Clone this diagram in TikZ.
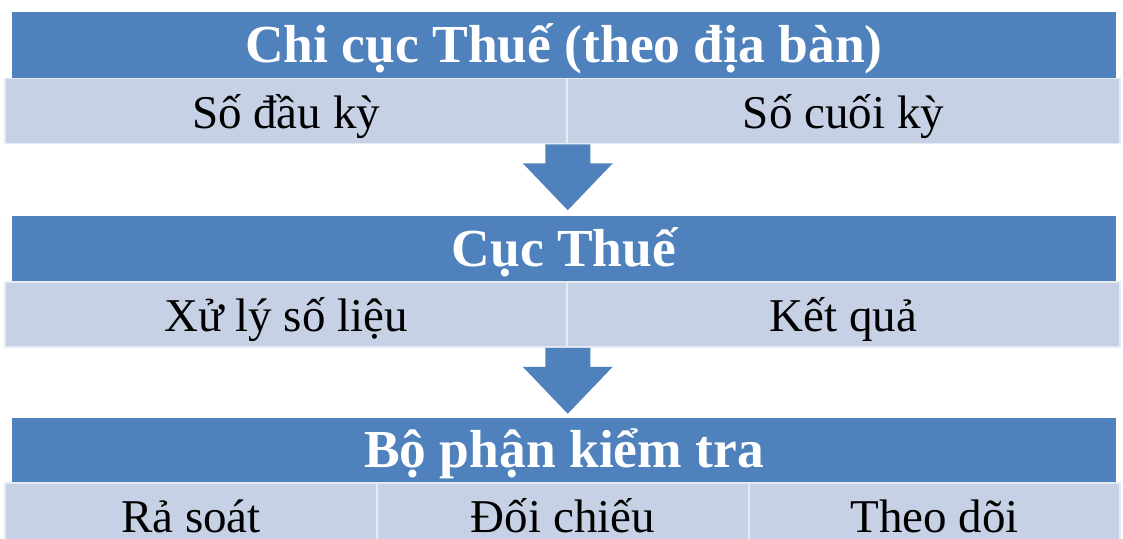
\documentclass[tikz,border=0pt]{standalone}
\usepackage{fontspec}
\setmainfont{Liberation Serif}
\usepackage[svgnames]{xcolor}
\definecolor{hdrblue}{RGB}{79,129,189}
\definecolor{rowblue}{RGB}{198,209,229}

\begin{document}
\begin{tikzpicture}[x=1pt,y=-1pt,
        hdr/.style={rectangle,fill=hdrblue,text=white,inner sep=0pt,
          minimum width=1104pt,minimum height=66pt,
          font=\fontsize{53.5}{60}\selectfont\bfseries,
          text height=38pt,text depth=4pt},
        cell/.style={rectangle,fill=rowblue,draw=white!55!rowblue,
          line width=1.5pt,inner sep=0pt,minimum height=65pt,
          font=\fontsize{47}{54}\selectfont,
          text height=38pt,text depth=4pt},
        blockarrow/.style={fill=hdrblue}]
        \useasboundingbox (0,0) rectangle (1123,538);
        \clip (0,0) rectangle (1123,538);

        \node[hdr] (h1) at (564,45) {Chi cục Thuế (theo địa bàn)};
        \node[cell,minimum width=562pt] (s1a) at (286,111) {Số đầu kỳ};
        \node[cell,minimum width=553pt] (s1b) at (843.5,111) {Số cuối kỳ};

        \node[hdr] (h2) at (564,249) {Cục Thuế};
        \node[cell,minimum width=562pt] (s2a) at (286,314.5) {Xử lý số liệu};
        \node[cell,minimum width=553pt] (s2b) at (843.5,314.5) {Kết quả};

        \node[hdr] (h3) at (564,450.5) {Bộ phận kiểm tra};
        \node[cell,minimum width=372pt] (s3a) at (191,515.5) {Rả soát};
        \node[cell,minimum width=372pt] (s3b) at (563,515.5) {Đối chiếu};
        \node[cell,minimum width=371pt] (s3c) at (934.5,515.5) {Theo dõi};

        \fill[blockarrow] (s1a.south east) ++(-22.5,0) -- ++(0,19)
          -- ++(-22.5,0) -- ++(45,47) -- ++(45,-47) -- ++(-22.5,0)
          -- ++(0,-19) -- cycle;

        \fill[blockarrow] (s2a.south east) ++(-22.5,0) -- ++(0,19)
          -- ++(-22.5,0) -- ++(45,47) -- ++(45,-47) -- ++(-22.5,0)
          -- ++(0,-19) -- cycle;
\end{tikzpicture}
\end{document}
